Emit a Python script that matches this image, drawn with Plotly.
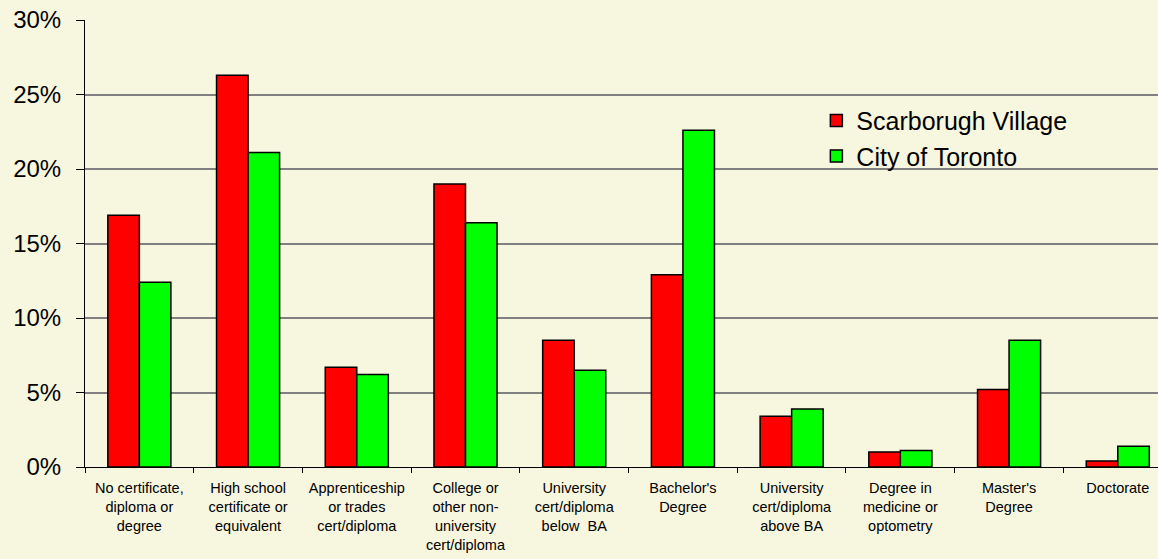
import plotly.graph_objects as go

categories = [
    "No certificate,<br>diploma or<br>degree",
    "High school<br>certificate or<br>equivalent",
    "Apprenticeship<br>or trades<br>cert/diploma",
    "College or<br>other non-<br>university<br>cert/diploma",
    "University<br>cert/diploma<br>below  BA",
    "Bachelor's<br>Degree",
    "University<br>cert/diploma<br>above BA",
    "Degree in<br>medicine or<br>optometry",
    "Master's<br>Degree",
    "Doctorate",
]
scarborough_village = [16.9, 26.3, 6.7, 19.0, 8.5, 12.9, 3.4, 1.0, 5.2, 0.4]
city_of_toronto = [12.4, 21.1, 6.2, 16.4, 6.5, 22.6, 3.9, 1.1, 8.5, 1.4]
y_ticks = [0, 5, 10, 15, 20, 25, 30]
y_tick_labels = ["0%", "5%", "10%", "15%", "20%", "25%", "30%"]

bg = "#F7F6DF"
font_family = "Liberation Sans, Arial, sans-serif"

fig = go.Figure()
fig.add_trace(go.Bar(
    x=categories, y=scarborough_village, name="Scarborugh Village",
    marker=dict(color="#FF0000", line=dict(color="black", width=1.5)),
))
fig.add_trace(go.Bar(
    x=categories, y=city_of_toronto, name="City of Toronto",
    marker=dict(color="#00FF00", line=dict(color="black", width=1.5)),
))

fig.update_layout(
    width=1158, height=559,
    margin=dict(l=85, r=0, t=20, b=92, pad=0),
    paper_bgcolor=bg, plot_bgcolor=bg,
    font=dict(family=font_family, color="black"),
    barmode="group", bargap=0.42, bargroupgap=0,
    legend=dict(
        x=0.6816, y=0.826, xanchor="left", yanchor="top",
        font=dict(size=25, family=font_family), bgcolor="rgba(0,0,0,0)",
        tracegroupgap=0,
    ),
    xaxis=dict(
        type="category", range=[-0.5, 9.37],
        tickson="boundaries", ticks="outside", ticklen=5, tickcolor="black",
        tickfont=dict(size=14.5, family=font_family),
        ticklabelstandoff=8,
        showline=True, linecolor="black", linewidth=1,
        showgrid=False, zeroline=False,
    ),
    yaxis=dict(
        range=[0, 30], tickvals=y_ticks, ticktext=y_tick_labels,
        ticks="outside", ticklen=8, tickcolor="black",
        tickfont=dict(size=24, family=font_family),
        ticklabelstandoff=10,
        showline=True, linecolor="black", linewidth=1,
        showgrid=True, gridcolor="#808080", gridwidth=1.5,
        zeroline=False,
    ),
)

fig.write_html(
    "out.html",
    config={"displayModeBar": False},
    post_script="document.body.style.margin='0';document.body.style.overflow='hidden';",
)
